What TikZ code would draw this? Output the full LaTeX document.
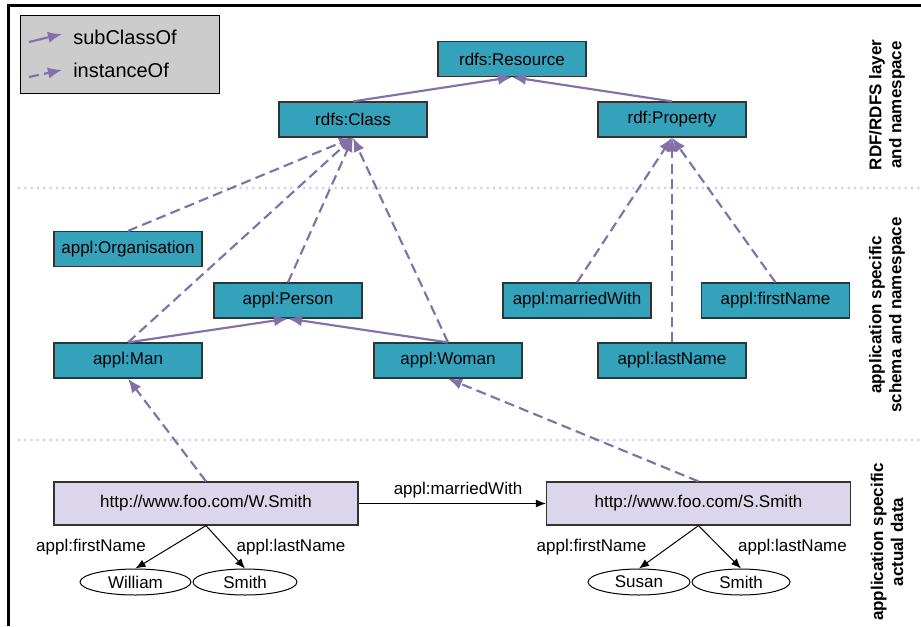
\documentclass[tikz,border=0pt]{standalone}
\usepackage{fontspec}
\setmainfont{Liberation Sans}
\usetikzlibrary{arrows.meta,shapes.geometric}
\definecolor{teal1}{HTML}{35A2BC}
\definecolor{purp}{HTML}{8270A9}
\definecolor{lav}{HTML}{DCD6EA}
\definecolor{dotc}{HTML}{D8D2EA}
\definecolor{legg}{HTML}{CCCCCC}
\begin{document}
\begin{tikzpicture}[x=0.75pt,y=-0.75pt,
  txt/.style={font=\fontsize{12.75}{15}\selectfont},
  cls/.style={txt,draw=black!80,fill=teal1,line width=0.9pt,minimum width=111pt,minimum height=26.25pt,inner sep=0pt},
  dat/.style={txt,draw=black!80,fill=lav,line width=0.9pt,minimum width=228pt,minimum height=32.25pt,inner sep=0pt},
  lit/.style={txt,draw=black,ellipse,line width=0.75pt,minimum height=19.5pt,inner sep=0pt},
  sub/.style={draw=purp,line width=1.6pt,-{Latex[length=10.5pt,width=8.5pt]}},
  inst/.style={draw=purp,line width=1.6pt,dash pattern=on 7.5pt off 4pt,-{Latex[length=10.5pt,width=8.5pt]}},
  prop/.style={draw=black,line width=0.75pt,-{Latex[length=7.5pt,width=6pt]}},
  sep/.style={draw=dotc,line width=2.4pt,line cap=round,dash pattern=on 0pt off 4.75pt},
  side/.style={font=\fontsize{12.75}{15}\selectfont\bfseries,rotate=90,align=center}
]
\useasboundingbox (0,0) rectangle (921,626);
% frame
\draw[line width=2.25pt] (921,5) -- (8,5) -- (8,626);
% separators
\draw[sep] (19,188) -- (921,188);
\draw[sep] (19,440) -- (921,440);
% legend
\node[draw=black,fill=legg,line width=0.75pt,minimum width=149.25pt,minimum height=58.5pt,inner sep=0pt] (legend) at (119.5,54) {};
\coordinate (l1a) at (29,42); \coordinate (l1b) at (62,34);
\coordinate (l2a) at (29,77); \coordinate (l2b) at (62,70);
\draw[sub] (l1a) -- (l1b);
\draw[inst] (l2a) -- (l2b);
\node[anchor=west,font=\fontsize{15}{18}\selectfont,inner sep=0pt] (lt1) at (73,37) {subClassOf};
\node[anchor=west,font=\fontsize{15}{18}\selectfont,inner sep=0pt] (lt2) at (73,70) {instanceOf};
% class nodes
\node[cls] (res) at (512,59) {rdfs:Resource};
\node[cls] (cls) at (353,119.5) {rdfs:Class};
\node[cls] (prp) at (672,119.5) {rdf:Property};
\node[cls] (org) at (128,249) {appl:Organisation};
\node[cls] (per) at (288,300.5) {appl:Person};
\node[cls] (man) at (128,360.5) {appl:Man};
\node[cls] (wom) at (448,360.5) {appl:Woman};
\node[cls] (mar) at (577,300.5) {appl:marriedWith};
\node[cls] (fn) at (775.5,300.5) {appl:firstName};
\node[cls] (ln) at (672,360.5) {appl:lastName};
% data
\node[dat] (ws) at (206,503.5) {http://www.foo.com/W.Smith};
\node[dat] (ss) at (698.5,503.5) {http://www.foo.com/S.Smith};
\node[lit,minimum width=83.25pt] (wil) at (135.5,582) {William};
\node[lit,minimum width=78pt] (smi1) at (245,582) {Smith};
\node[lit,minimum width=76.5pt] (sus) at (639,582) {Susan};
\node[lit,minimum width=73.5pt] (smi2) at (741,582) {Smith};
% subclass
\draw[sub] (cls.north) -- (res.south);
\draw[sub] (prp.north) -- (res.south);
\draw[sub] (man.north) -- (per.south);
\draw[sub] (wom.north) -- (per.south);
% instance
\draw[inst] (org.north) -- (cls.south);
\draw[inst] (man.north) -- (cls.south);
\draw[inst] (per.north) -- (cls.south);
\draw[inst] (wom.north) -- (cls.south);
\draw[inst] (mar.north) -- (prp.south);
\draw[inst] (ln.north) -- (prp.south);
\draw[inst] (fn.north) -- (prp.south);
\draw[inst] (ws.north) -- (man.south);
\draw[inst] (ss.north) -- (wom.south);
% properties
\draw[prop] (ws.east) -- (ss.west);
\node[txt,inner sep=0pt] (mwl) at (458,490) {appl:marriedWith};
\draw[prop] (ws.south) -- (wil.north);
\draw[prop] (ws.south) -- (smi1.north);
\draw[prop] (ss.south) -- (sus.north);
\draw[prop] (ss.south) -- (smi2.north);
\node[txt,inner sep=0pt] (fl1) at (91,547) {appl:firstName};
\node[txt,inner sep=0pt] (ll1) at (291,547) {appl:lastName};
\node[txt,inner sep=0pt] (fl2) at (591.5,547) {appl:firstName};
\node[txt,inner sep=0pt] (ll2) at (792.5,547) {appl:lastName};
% side labels
\node[side] (s1) at (887,105) {RDF/RDFS layer\\and namespace};
\node[side] (s2) at (887,315) {application specific\\schema and namespace};
\node[side] (s3) at (887,542) {application specific\\actual data};
\end{tikzpicture}
\end{document}
